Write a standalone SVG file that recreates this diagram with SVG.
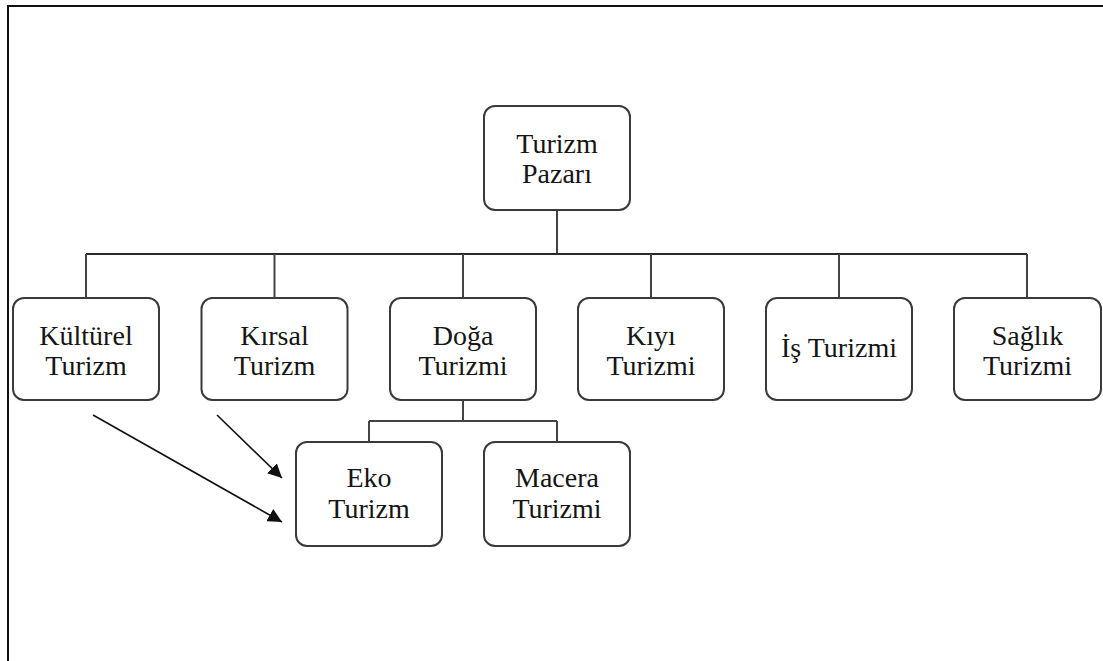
<svg xmlns="http://www.w3.org/2000/svg" width="1103" height="661" viewBox="0 0 1103 661">
<style>
.box{fill:#fff;stroke:#3a3a3a;stroke-width:2}
.t{font-family:'Liberation Serif','Times New Roman',Times,serif;font-size:28px;fill:#151515;text-anchor:middle}
.ln{stroke:#444;stroke-width:2;fill:none}
.ar{stroke:#111;stroke-width:1.6;fill:none}
</style>
<defs>
<marker id="ah" viewBox="0 0 10 10" refX="10" refY="5" markerWidth="14" markerHeight="14" markerUnits="userSpaceOnUse" orient="auto">
<path d="M0,0 L10,5 L0,10 z" fill="#111"/>
</marker>
</defs>
<rect width="1103" height="661" fill="#fff"/>
<path d="M8,661 V6 H1103" fill="none" stroke="#111" stroke-width="2"/>
<g id="connectors">
<path class="ln" d="M557,210 V254"/>
<path class="ln" d="M86,254 H1027" style="stroke:#2a2a2a"/>
<path class="ln" d="M86,254 V298 M274.5,254 V298 M463,254 V298 M651,254 V298 M839,254 V298 M1027,254 V298"/>
<path class="ln" d="M463,400 V421 M369,421 H557 M369,421 V442 M557,421 V442"/>
<path class="ar" d="M93,415 L282,522" marker-end="url(#ah)"/>
<path class="ar" d="M217,415 L282,478" marker-end="url(#ah)"/>
</g>
<g id="n-pazar"><rect class="box" x="484" y="106" width="146" height="104" rx="11"/><text class="t" x="557" y="153">Turizm</text><text class="t" x="557" y="183">Pazarı</text></g>
<g id="n-kultur"><rect class="box" x="13" y="298" width="146" height="102" rx="11"/><text class="t" x="86" y="345">Kültürel</text><text class="t" x="86" y="375">Turizm</text></g>
<g id="n-kirsal"><rect class="box" x="201.5" y="298" width="146" height="102" rx="11"/><text class="t" x="274.5" y="345">Kırsal</text><text class="t" x="274.5" y="375">Turizm</text></g>
<g id="n-doga"><rect class="box" x="390" y="298" width="146" height="102" rx="11"/><text class="t" x="463" y="345">Doğa</text><text class="t" x="463" y="375">Turizmi</text></g>
<g id="n-kiyi"><rect class="box" x="578" y="298" width="146" height="102" rx="11"/><text class="t" x="651" y="345">Kıyı</text><text class="t" x="651" y="375">Turizmi</text></g>
<g id="n-is"><rect class="box" x="766" y="298" width="146" height="102" rx="11"/><text class="t" x="839" y="357">İş Turizmi</text></g>
<g id="n-saglik"><rect class="box" x="954" y="298" width="147" height="102" rx="11"/><text class="t" x="1027.5" y="345">Sağlık</text><text class="t" x="1027.5" y="375">Turizmi</text></g>
<g id="n-eko"><rect class="box" x="296" y="442" width="146" height="104" rx="11"/><text class="t" x="369" y="487">Eko</text><text class="t" x="369" y="518">Turizm</text></g>
<g id="n-macera"><rect class="box" x="484" y="442" width="146" height="104" rx="11"/><text class="t" x="557" y="487">Macera</text><text class="t" x="557" y="518">Turizmi</text></g>
</svg>
